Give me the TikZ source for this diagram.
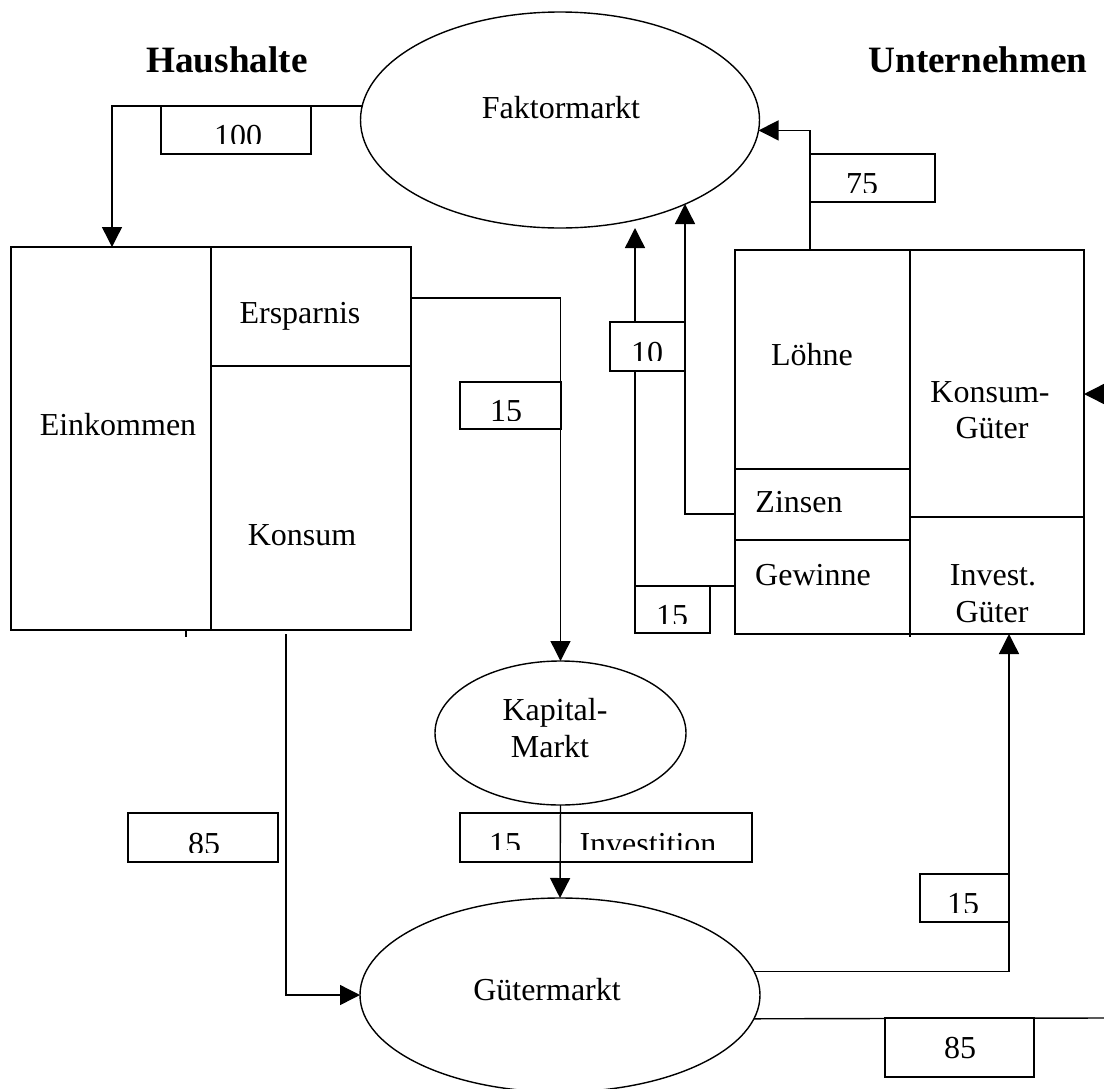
\documentclass[tikz,border=0pt]{standalone}
\usepackage{fontspec}
\setmainfont{Liberation Serif}
\usetikzlibrary{shapes.geometric,arrows.meta}
\begin{document}
\begin{tikzpicture}[x=0.5pt,y=-0.5pt,
  every node/.style={inner sep=0pt, outer sep=0pt},
  ln/.style={line width=0.7pt},
  arr/.style={line width=0.7pt, -{Triangle[length=10pt,width=10pt]}},
  cell/.style={draw, rectangle, line width=0.7pt},
  lbox/.style={draw, rectangle, fill=white, line width=0.7pt},
  mkt/.style={draw, ellipse, line width=0.7pt},
  txt/.style={font=\fontsize{16}{19.2}\selectfont, anchor=base},
  head/.style={font=\fontsize{18.6}{22}\selectfont\bfseries, anchor=base}]
\useasboundingbox (0,0) rectangle (1104,1088);

% headings
\node[head] (hh) at (227,72) {Haushalte};
\node[head] (un) at (978,72) {Unternehmen};

% household cells
\node[cell, minimum width=100pt, minimum height=191.5pt] (ein) at (111,438.5) {};
\node[cell, minimum width=100pt, minimum height=59.5pt] (ers) at (311,306.5) {};
\node[cell, minimum width=100pt, minimum height=132pt] (kon) at (311,498) {};
\draw[ln] (186,630) -- (186,637);

% firm cells
\node[cell, minimum width=87.5pt, minimum height=109.5pt] (loe) at (822.5,359.5) {};
\node[cell, minimum width=87.5pt, minimum height=35.5pt] (zin) at (822.5,504.5) {};
\node[cell, minimum width=87.5pt, minimum height=47pt] (gew) at (822.5,587) {};
\node[cell, minimum width=87pt, minimum height=133.5pt] (kg) at (997,383.5) {};
\node[cell, minimum width=87pt, minimum height=58.5pt] (ig) at (997,575.5) {};
\draw[ln] (910,634) -- (910,637);

% markets
\node[mkt, minimum width=199.5pt, minimum height=108pt] (fm) at (560,120) {};
\node[mkt, minimum width=125.5pt, minimum height=72pt] (km) at (560.5,733) {};
\node[mkt, minimum width=200pt, minimum height=97pt] (gm) at (560,995) {};

% coordinates for connector ends
\coordinate (c100) at (112,247);
\coordinate (c75) at (810,250);
\coordinate (z1) at (735,514);
\coordinate (z2) at (685,204);
\coordinate (g1) at (735,586);
\coordinate (g2) at (635,228);
\coordinate (e1) at (411,298);
\coordinate (k1) at (286,634);
\coordinate (i1) at (1009,634);
\coordinate (r1) at (1104,1018);
\coordinate (r2) at (1104,394);
\coordinate (r3) at (1084,394);

% connectors
\draw[arr] (fm.176) -| (c100);
\draw[arr] (c75) |- (fm.-3);
\draw[arr] (z1) -| (z2);
\draw[arr] (g1) -| (g2);
\draw[arr] (e1) -| (km.north);
\draw[arr] (k1) |- (gm.west);
\draw[arr] (gm.7) -| (i1);
\draw[ln] (gm.-7) -- (r1);
\draw[arr] (r2) -- (r3);

% label boxes
\node[lbox, minimum width=75pt, minimum height=24pt] (b100) at (236,130) {};
\node[lbox, minimum width=62.5pt, minimum height=24pt] (b75) at (872.5,178) {};
\node[lbox, minimum width=37.5pt, minimum height=24.5pt] (b10) at (647.5,346.5) {};
\node[lbox, minimum width=50.5pt, minimum height=23.5pt] (b15e) at (510.5,405.5) {};
\node[lbox, minimum width=37.5pt, minimum height=23.5pt] (b15g) at (672.5,609.5) {};
\node[lbox, minimum width=75pt, minimum height=24.5pt] (b85l) at (203,837.5) {};
\node[lbox, minimum width=146pt, minimum height=24.5pt] (b15i) at (606,837.5) {};
\node[lbox, minimum width=44.5pt, minimum height=24pt] (b15r) at (964.5,898) {};
\node[lbox, minimum width=74.5pt, minimum height=29.5pt] (b85r) at (959.5,1047.5) {};

% capital market to goods market (over the label box)
\draw[arr] (km.south) -- (gm.north);

% clipped label texts
\begin{scope}\clip (161,106) rectangle (311,143);
\node[txt] (t100) at (238,146.5) {100};\end{scope}
\begin{scope}\clip (810,154) rectangle (935,192);
\node[txt] (t75) at (862,194.5) {75};\end{scope}
\begin{scope}\clip (610,322) rectangle (685,360);
\node[txt] (t10) at (647,363.5) {10};\end{scope}
\begin{scope}\clip (460,382) rectangle (561,420);
\node[txt] (t15e) at (506,421.5) {15};\end{scope}
\begin{scope}\clip (635,586) rectangle (710,623);
\node[txt] (t15g) at (672,626.5) {15};\end{scope}
\begin{scope}\clip (128,813) rectangle (278,852);
\node[txt] (t85l) at (204,854.5) {85};\end{scope}
\begin{scope}\clip (460,813) rectangle (752,849);
\node[txt] (t15i) at (505,854.5) {15};
\node[txt] (tinv) at (648,854.5) {Investition};\end{scope}
\begin{scope}\clip (920,874) rectangle (1009,912);
\node[txt] (t15r) at (963,914.5) {15};\end{scope}
\node[txt] (t85r) at (960,1058.5) {85};

% cell and market texts
\node[txt] (tfm) at (561,118) {Faktormarkt};
\node[txt] (tein) at (118,435) {Einkommen};
\node[txt] (ters) at (300,323) {Ersparnis};
\node[txt] (tkon) at (302,545) {Konsum};
\node[txt] (tloe) at (812,365) {Löhne};
\node[txt] (tzin) at (799,512) {Zinsen};
\node[txt] (tgew) at (813,585) {Gewinne};
\node[txt] (tkg1) at (990,402) {Konsum-};
\node[txt] (tkg2) at (992,438) {Güter};
\node[txt] (tig1) at (993,585) {Invest.};
\node[txt] (tig2) at (992,622) {Güter};
\node[txt] (tkm1) at (555,720) {Kapital-};
\node[txt] (tkm2) at (550,757) {Markt};
\node[txt] (tgm) at (547,1000) {Gütermarkt};
\end{tikzpicture}
\end{document}
